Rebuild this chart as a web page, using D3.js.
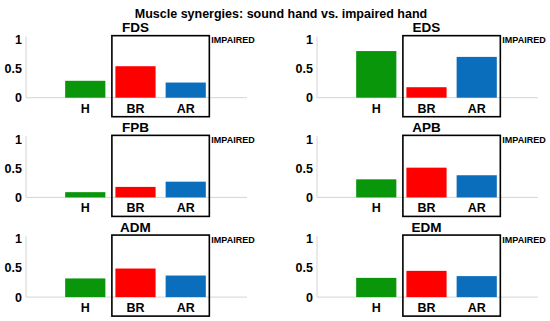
<!DOCTYPE html>
<html>
<head>
<meta charset="utf-8">
<script src="https://cdn.jsdelivr.net/npm/d3@7"></script>
<style>
  body { margin: 0; background: #fff; }
  svg { display: block; font-family: "Liberation Sans", Arial, sans-serif; }
</style>
</head>
<body>
<svg id="chart" width="550" height="321"></svg>
<script>
// data
var muscles = ["FDS", "EDS", "FPB", "APB", "ADM", "EDM"];
var groups = ["H", "BR", "AR"];
var healthy = [0.29, 0.80, 0.09, 0.31, 0.32, 0.33];
var beforeRehab = [0.54, 0.18, 0.18, 0.51, 0.49, 0.45];
var afterRehab = [0.26, 0.70, 0.27, 0.38, 0.37, 0.36];
var yTicks = [0, 0.5, 1];
var colors = ["#0a960a", "#ff0000", "#0a6ebd"];

var svg = d3.select("#chart");

svg.append("text")
  .attr("x", 281).attr("y", 18)
  .attr("text-anchor", "middle")
  .attr("font-weight", "bold")
  .attr("font-size", 12.5)
  .text("Muscle synergies: sound hand vs. impaired hand");

// scales shared by each small panel (panel-local coords)
var x = d3.scaleLinear().domain([-0.18, 4.22]).range([26, 247]);
var y = d3.scaleLinear().domain([0, 1]).range([97.7, 39.4]);

var colStep = 291, rowStep = 99.7;

muscles.forEach(function(m, i) {
  var vals = [healthy[i], beforeRehab[i], afterRehab[i]];
  var g = svg.append("g")
    .attr("transform", "translate(" + (i % 2) * colStep + "," + Math.floor(i / 2) * rowStep + ")");

  // axes lines (light grey)
  g.append("line")
    .attr("x1", x(-0.18)).attr("x2", x(-0.18))
    .attr("y1", y(1.05)).attr("y2", y(0))
    .attr("stroke", "#d4d4d4").attr("stroke-width", 1);
  g.append("line")
    .attr("x1", x(-0.18)).attr("x2", x(4.22))
    .attr("y1", y(0)).attr("y2", y(0))
    .attr("stroke", "#d4d4d4").attr("stroke-width", 1);

  g.selectAll(".ytick")
    .data(yTicks)
    .enter().append("text")
    .attr("x", 22)
    .attr("y", function(d) { return y(d) + 4.5; })
    .attr("text-anchor", "end")
    .attr("font-weight", "bold")
    .attr("font-size", 12.5)
    .text(function(d) { return d; });

  g.selectAll(".bar")
    .data(vals)
    .enter().append("rect")
    .attr("x", function(d, j) { return x(j + 1 - 0.4); })
    .attr("width", x(0.8) - x(0))
    .attr("y", function(d) { return y(d); })
    .attr("height", function(d) { return y(0) - y(d); })
    .attr("fill", function(d, j) { return colors[j]; });

  g.selectAll(".xlab")
    .data(groups)
    .enter().append("text")
    .attr("x", function(d, j) { return x(j + 1); })
    .attr("y", y(0) + 15)
    .attr("text-anchor", "middle")
    .attr("font-weight", "bold")
    .attr("font-size", 12.5)
    .text(function(d) { return d; });

  // impaired box
  g.append("rect")
    .attr("x", x(1.53)).attr("y", y(1.064))
    .attr("width", x(3.47) - x(1.53))
    .attr("height", y(-0.326) - y(1.064))
    .attr("fill", "none")
    .attr("stroke", "#000").attr("stroke-width", 1.6);

  g.append("text")
    .attr("x", x(3.47) + 2).attr("y", y(1.064) + 7.8)
    .attr("font-weight", "bold")
    .attr("font-size", 9)
    .text("IMPAIRED");

  g.append("text")
    .attr("x", x(2)).attr("y", 32.3)
    .attr("text-anchor", "middle")
    .attr("font-weight", "bold")
    .attr("font-size", 13.5)
    .text(m);
});
</script>
</body>
</html>
